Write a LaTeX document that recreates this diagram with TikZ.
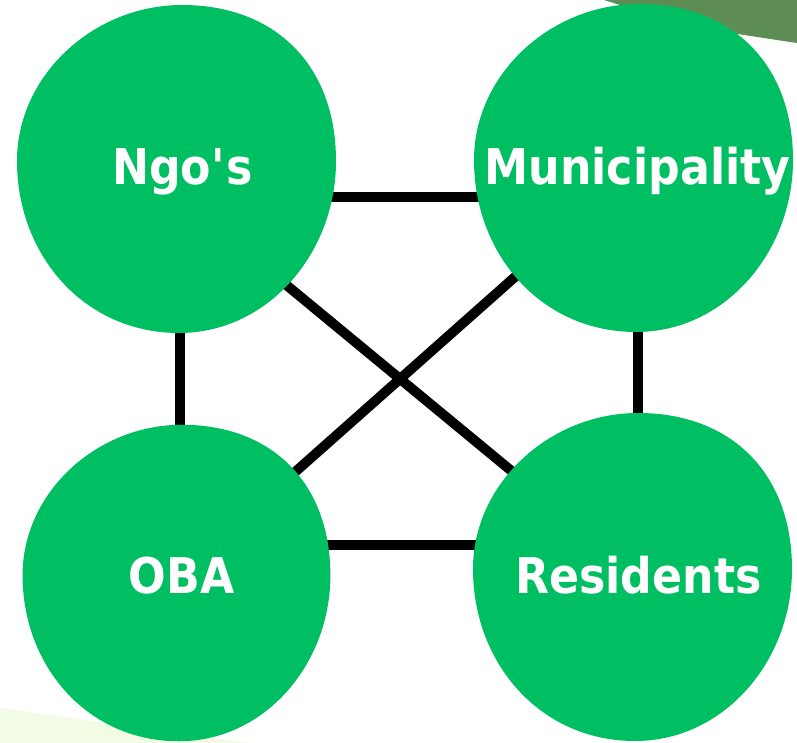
\documentclass[tikz,border=0pt]{standalone}
\usepackage{fontspec}
\newfontfamily\actorfont{DejaVu Sans}[FakeStretch=0.9]
\usetikzlibrary{backgrounds}

\definecolor{blobgreen}{RGB}{0,190,98}
\definecolor{bandgreen}{RGB}{94,140,85}
\definecolor{palegreen}{RGB}{242,251,228}

% round blob behind an actor: node, offset, scale
\newcommand{\blobbehind}[3]{%
	\fill[blob, shift={(#1.center)}, shift={(#2)}, scale=#3]
		(160,-8) .. controls (160,-103) and (100,-164) .. (6,-164)
		.. controls (-82,-164) and (-159,-94) .. (-159,-8)
		.. controls (-159,86) and (-92,164) .. (3,164)
		.. controls (92,164) and (160,84) .. (160,-8) -- cycle;%
}

\begin{document}
\begin{tikzpicture}[
	x=0.025cm, y=-0.025cm,
	font=\actorfont\bfseries\fontsize{35}{40}\selectfont
	]
\tikzset{
	actor/.style = { text=white, inner sep=0pt, text height=25.5pt, text depth=0pt },
	blob/.style = { fill=blobgreen },
	link/.style = { draw=black, line width=7pt }
}
	\useasboundingbox (0,0) rectangle (797,743);

	% actors
	\node (ngo) [actor] at (182.5,166.5) {Ngo\textquotesingle s};
	\node (muni) [actor] at (637.5,166.5) {Municipality};
	\node (oba) [actor] at (181.5,575.5) {OBA};
	\node (res) [actor] at (638.5,575.5) {Residents};

	\begin{scope}[on background layer]
	% corner bands
	\fill[bandgreen] (604,0) -- (797,0) -- (797,43) .. controls (690,27) .. (604,0) -- cycle;
	\fill[palegreen] (0,708) -- (250,743) -- (0,743) -- cycle;

	% links
	\draw [link] ([shift={(0,30.5)}]ngo.center) -- ([shift={(0,30.5)}]muni.center);
	\draw [link] ([shift={(-2.5,0)}]ngo.center) -- ([shift={(-1.5,0)}]oba.center);
	\draw [link] ([shift={(0.5,0)}]muni.center) -- ([shift={(-0.5,0)}]res.center);
	\draw [link] ([shift={(0,-30.5)}]oba.center) -- ([shift={(0,-30.5)}]res.center);
	\draw [link] ([shift={(67.5,88.5)}]ngo.center) -- ([shift={(-78.5,-64.5)}]res.center);
	\draw [link] ([shift={(-77.5,70.5)}]muni.center) -- ([shift={(68.5,-63.5)}]oba.center);

	% blobs
	\blobbehind{ngo}{-6.5,2.5}{1}
	\blobbehind{muni}{-4.5,1.5}{1}
	\blobbehind{oba}{-5.5,7.5}{0.965}
	\blobbehind{res}{-6.5,1.5}{1}
	\end{scope}

\end{tikzpicture}
\end{document}
